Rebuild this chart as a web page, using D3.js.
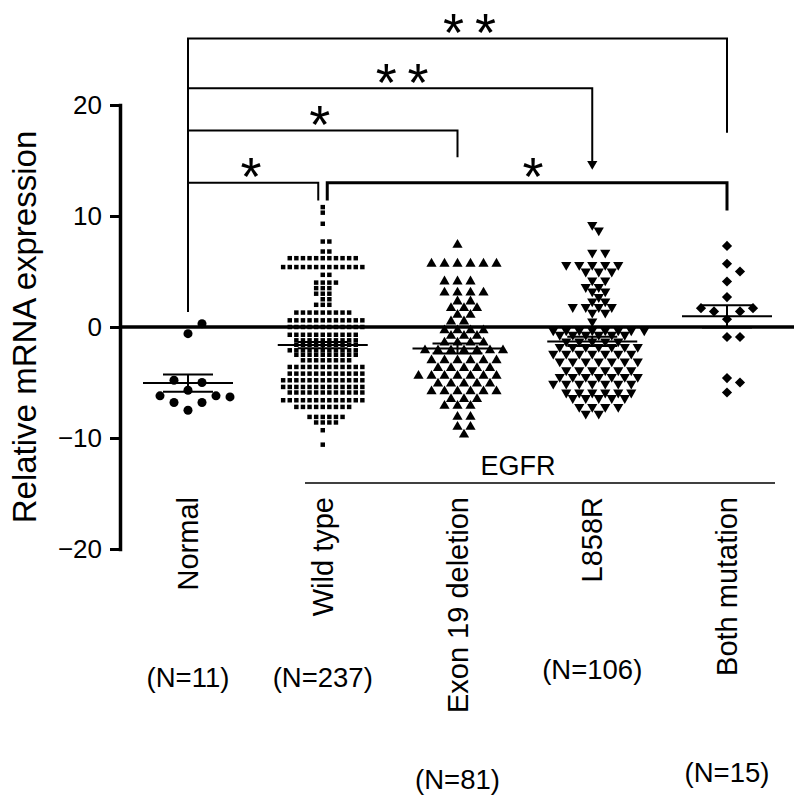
<!DOCTYPE html>
<html><head><meta charset="utf-8">
<script src="https://cdn.jsdelivr.net/npm/d3@7"></script>
<style>
body{margin:0;background:#fff;}
svg text{font-family:"Liberation Sans",Arial,Helvetica,sans-serif;fill:#000;}
</style></head><body>
<svg id="chart" width="796" height="800"></svg>
<script>
// ---------------- data ----------------
const categories = ["Normal","Wild type","Exon 19 deletion","L858R","Both mutation"];
const groupSizes = ["(N=11)","(N=237)","(N=81)","(N=106)","(N=15)"];
const yTicks = [-20,-10,0,10,20];
const yTitle = "Relative mRNA expression";
const mutationLabel = "EGFR";

const normalValues = [-0.6,0.3,-7.5,-6.8,-6.8,-5.7,-6.2,-6.2,-6.3,-5.0,-4.8];

const wildTypeValues = [
 10.8,10.3,9.3,7.7,7.7,6.8,6.8,
 6.2,6.2,6.2,6.2,6.2,6.2,6.2,6.2,6.2,6.2,6.2,
 5.4,5.4,5.4,5.4,5.4,5.4,5.4,5.4,5.4,5.4,5.4,5.4,5.4,
 4.7,4.7,4.0,4.0,4.0,4.0,3.5,3.5,3.5,3.0,3.0,3.0,2.5,2.5,2.0,2.0,2.0,
 1.3,1.3,1.3,1.3,1.3,1.3,1.3,1.3,1.3,
 0.6,0.6,0.6,0.6,0.6,0.6,0.6,0.6,0.6,0.6,0.6,0.6,
 0.0,0.0,0.0,0.0,0.0,0.0,0.0,0.0,0.0,0.0,0.0,0.0,
 -0.7,-0.7,-0.7,-0.7,-0.7,-0.7,-0.7,-0.7,-0.7,-0.7,-0.7,
 -1.2,-1.2,-1.2,-1.2,-1.2,-1.2,-1.2,-1.2,-1.2,-1.2,
 -1.6,-1.6,-1.6,-1.6,-1.6,-1.6,-1.6,-1.6,-1.6,-1.6,
 -2.1,-2.1,-2.1,-2.1,-2.1,-2.1,-2.1,-2.1,-2.1,-2.1,-2.1,
 -2.5,-2.5,-2.5,-2.5,-2.5,-2.5,-2.5,-2.5,-2.5,-2.5,
 -3.0,-3.0,-3.0,-3.0,-3.0,-3.0,-3.0,-3.0,
 -3.6,-3.6,-3.6,-3.6,-3.6,-3.6,-3.6,-3.6,-3.6,-3.6,-3.6,-3.6,
 -4.2,-4.2,-4.2,-4.2,-4.2,-4.2,-4.2,-4.2,-4.2,-4.2,-4.2,-4.2,
 -4.8,-4.8,-4.8,-4.8,-4.8,-4.8,-4.8,-4.8,-4.8,-4.8,-4.8,-4.8,-4.8,
 -5.4,-5.4,-5.4,-5.4,-5.4,-5.4,-5.4,-5.4,-5.4,-5.4,-5.4,-5.4,-5.4,
 -5.9,-5.9,-5.9,-5.9,-5.9,-5.9,-5.9,-5.9,-5.9,-5.9,-5.9,-5.9,
 -6.6,-6.6,-6.6,-6.6,-6.6,-6.6,-6.6,-6.6,-6.6,-6.6,-6.6,-6.6,-6.6,
 -7.2,-7.2,-7.2,-7.2,-7.2,-7.2,-7.2,-7.2,-7.2,
 -8.1,-8.1,-8.1,-8.1,-8.1,-8.1,-8.6,-8.6,-8.6,-8.6,-9.3,-10.6
];

const exon19Values = [
 7.4,5.7,5.7,5.7,5.7,5.7,5.7,4.1,4.1,4.1,3.1,3.1,3.1,3.1,2.3,2.3,
 1.7,1.7,1.7,1.1,1.1,0.5,0.5,
 -0.3,-0.3,-0.3,-0.3,-0.8,-0.8,-0.8,-1.4,-1.4,-1.4,-1.4,
 -2.1,-2.1,-2.1,-2.1,-2.1,-2.1,-2.1,-3.0,-3.0,-3.0,-3.0,-3.0,-3.0,
 -3.7,-3.7,-3.7,-3.7,-3.7,-4.4,-4.4,-4.4,-4.4,-4.4,-4.4,-4.4,
 -5.1,-5.1,-5.1,-5.1,-5.1,-5.8,-5.8,-5.8,-5.8,-5.8,-5.8,
 -6.5,-6.5,-6.5,-7.1,-7.1,-7.1,-8.1,-8.1,-9.0,-9.0,-9.7
];

const l858rValues = [
 14.7,9.2,8.7,6.7,6.7,5.6,5.6,5.6,5.6,5.6,5.0,5.0,5.0,4.2,4.2,3.6,3.6,3.2,3.2,
 2.7,2.3,2.3,1.8,1.8,1.8,1.8,1.3,1.3,0.5,
 -0.3,-0.3,-0.3,-0.3,-0.3,-0.3,-0.3,-0.3,
 -0.7,-0.7,-0.7,-0.7,-0.7,-0.7,
 -1.3,-1.3,-1.3,-1.3,-1.3,
 -1.8,-1.8,-1.8,-1.8,-1.8,-1.8,-1.8,
 -2.4,-2.4,-2.4,-2.4,-2.4,-2.4,-2.4,
 -3.1,-3.1,-3.1,-3.1,-3.1,-3.1,-3.1,
 -3.9,-3.9,-3.9,-3.9,-3.9,-3.9,
 -4.5,-4.5,-4.5,-4.5,-4.5,-4.5,-4.5,
 -5.1,-5.1,-5.1,-5.1,-5.1,-5.1,-5.1,
 -5.9,-5.9,-5.9,-5.9,-5.9,-5.9,
 -6.4,-6.4,-6.4,-6.4,-6.4,
 -7.2,-7.2,-7.2,-7.2,-7.8,-7.8
];

const bothValues = [7.3,5.7,5.0,4.1,2.7,0.7,1.4,1.4,1.7,1.7,-0.9,-0.9,-4.6,-5.0,-5.9];

// significance comparisons (levels in data units)
const compFrom   = ["Normal","Normal","Normal","Normal","Wild type"];
const compTo     = ["Both mutation","L858R","Exon 19 deletion","Wild type","Both mutation"];
const compLevel  = [26.0, 21.5, 17.7, 13.0, 13.0];
const compFromEnd= [1.35, 1.35, 1.35, 1.35, 11.4];
const compToEnd  = [17.5, 14.4, 15.3, 11.4, 10.5];
const compMark   = ["*\u2009*","*\u2009*","*","*","*"];

// ---------------- layout / style ----------------
const W = 796, H = 800;
const axisX = 120;
const nLabelY = [687, 687, 789, 679, 782];
const bracketStroke = [2, 2, 2, 2, 3];
const markShift = [12, 12, -3, -2, 6];

const svg = d3.select("#chart");
const x = d3.scalePoint().domain(categories).range([188, 727]);
const y = d3.scaleLinear().domain([-20, 20]).range([549, 105]);

const groupValues = [normalValues, wildTypeValues, exon19Values, l858rValues, bothValues];
const markerStyle = [
  {type: d3.symbolCircle,   size: 64, rot: 0,   s: 14,  hSame: 11,  hNear: 11},
  {type: d3.symbolSquare,   size: 20, rot: 0,   s: 6.6, hSame: 4.2, hNear: 4.2},
  {type: d3.symbolTriangle, size: 45, rot: 0,   s: 13,  hSame: 4,   hNear: 8},
  {type: d3.symbolTriangle, size: 45, rot: 180, s: 13,  hSame: 4,   hNear: 8},
  {type: d3.symbolSquare,   size: 52, rot: 45,  s: 13,  hSame: 12,  hNear: 12}
];

function swarm(values, st) {
  const placed = [];
  const cands = [0];
  for (let k = 1; k <= 80; k++) cands.push(k * st.s / 2, -k * st.s / 2);
  values.forEach(v => {
    const py = y(v);
    for (const o of cands) {
      const hit = placed.some(p => {
        const dx = Math.abs(p.o - o), dy = Math.abs(p.py - py);
        return (dx < st.s - 0.01 && dy < st.hSame) || (dx < st.s / 2 - 0.01 && dy < st.hNear);
      });
      if (!hit) { placed.push({v, py, o}); break; }
    }
  });
  return placed;
}

// points
categories.forEach((c, i) => {
  const st = markerStyle[i];
  const pts = swarm(groupValues[i], st);
  const sym = d3.symbol().type(st.type).size(st.size);
  svg.append("g").selectAll("path").data(pts).join("path")
    .attr("d", sym)
    .attr("transform", d => `translate(${x(c) + d.o},${d.py}) rotate(${st.rot})`)
    .attr("fill", "#000");
});

// mean +/- SEM
categories.forEach((c, i) => {
  const vals = groupValues[i];
  const m = d3.mean(vals);
  const sem = d3.deviation(vals) / Math.sqrt(vals.length);
  const g = svg.append("g").attr("stroke", "#000").attr("stroke-width", 2).attr("fill", "none");
  const cx = x(c);
  g.append("line").attr("x1", cx - 45).attr("x2", cx + 45).attr("y1", y(m)).attr("y2", y(m));
  g.append("line").attr("x1", cx).attr("x2", cx).attr("y1", y(m + sem)).attr("y2", y(m - sem));
  [m + sem, m - sem].forEach(v =>
    g.append("line").attr("x1", cx - 25).attr("x2", cx + 25).attr("y1", y(v)).attr("y2", y(v)));
});

// zero line
svg.append("line").attr("x1", axisX).attr("x2", W - 2).attr("y1", y(0)).attr("y2", y(0))
  .attr("stroke", "#000").attr("stroke-width", 3.5);

// y axis
const ax = svg.append("g").attr("transform", `translate(${axisX},0)`)
  .call(d3.axisLeft(y).tickValues(yTicks).tickSize(10).tickSizeOuter(0).tickPadding(8));
ax.select(".domain").attr("stroke-width", 3.5).attr("stroke-linecap", "square");
ax.selectAll(".tick line").attr("stroke-width", 3);
ax.selectAll(".tick text").attr("font-size", 26)
  .attr("font-family", "'Liberation Sans',Arial,Helvetica,sans-serif");

svg.append("text").attr("transform", `translate(36,${y(0)}) rotate(-90)`)
  .attr("text-anchor", "middle").attr("font-size", 33).text(yTitle);

// category labels
categories.forEach((c, i) => {
  svg.append("text").attr("transform", `translate(${x(c) + 10},497) rotate(-90)`)
    .attr("text-anchor", "end").attr("font-size", 29).text(c);
  svg.append("text").attr("x", x(c)).attr("y", nLabelY[i])
    .attr("text-anchor", "middle").attr("font-size", 27.5).text(groupSizes[i]);
});

// EGFR group line
svg.append("line").attr("x1", 305).attr("x2", 775).attr("y1", 483).attr("y2", 483)
  .attr("stroke", "#000").attr("stroke-width", 1.5);
svg.append("text").attr("x", 518).attr("y", 475).attr("text-anchor", "middle")
  .attr("font-size", 27).text(mutationLabel);

// brackets
const gap = 4.5;
const markFont = 54;
compFrom.forEach((f, i) => {
  const t = compTo[i];
  let x1 = x(f), x2 = x(t);
  if (compTo.some((tt, j) => j !== i && tt === f)) x1 += gap;
  if (compFrom.some((ff, j) => j !== i && ff === t)) x2 -= gap;
  const yl = y(compLevel[i]);
  svg.append("path")
    .attr("d", `M${x1},${y(compFromEnd[i])}V${yl}H${x2}V${y(compToEnd[i])}`)
    .attr("fill", "none").attr("stroke", "#000").attr("stroke-width", bracketStroke[i]);
  // glyph centre about 18px above bracket; DejaVu '*' centre sits ~0.56em above baseline
  svg.append("text").attr("x", (x1 + x2) / 2 + markShift[i]).attr("y", yl - 18 + 0.56 * markFont)
    .attr("text-anchor", "middle")
    .attr("font-family", "'DejaVu Sans',sans-serif").attr("font-size", markFont)
    .text(compMark[i]);
});
</script>
</body></html>
